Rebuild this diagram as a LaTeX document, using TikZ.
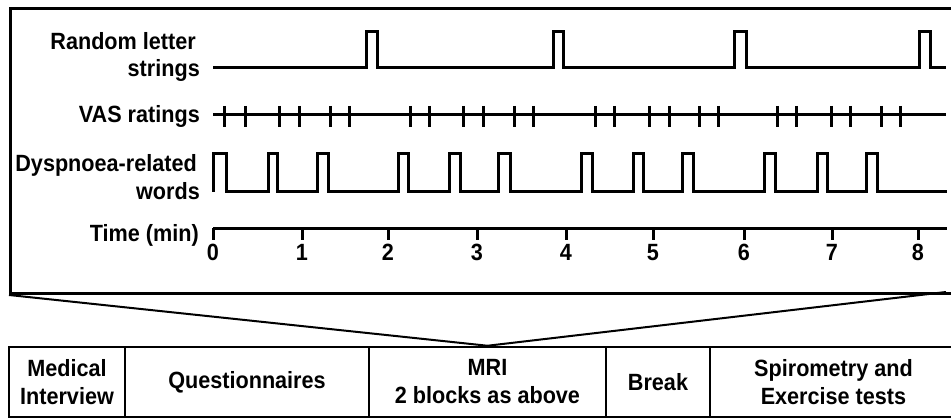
\documentclass[tikz,border=0pt]{standalone}
\usepackage{fontspec}
\setmainfont{Liberation Sans}[FakeStretch=0.92]
\begin{document}
\begin{tikzpicture}[x=1pt,y=-1pt,
  txt/.style={font=\fontsize{23.5}{28}\selectfont\bfseries, inner sep=0pt},
  lbl/.style={txt, anchor=base east},
  num/.style={txt, anchor=base},
  sig/.style={line width=3pt, line join=miter, line cap=butt},
  tick/.style={line width=3pt},
  cell/.style={txt, draw, line width=2.5pt, minimum height=70pt, align=center},
  fan/.style={line width=2pt}
]
\useasboundingbox (0,0) rectangle (951,419);
\clip (0,0) rectangle (951,419);

% outer frame
\node[draw, line width=3pt, minimum width=950pt, minimum height=285pt, anchor=north west, inner sep=0pt] (frame) at (9,7) {};

% labels
\node[lbl] (lr1) at (196,50) {Random letter};
\node[lbl] (lr2) at (200,77) {strings};
\node[lbl] (lv) at (200,123) {VAS ratings};
\node[lbl] (ld1) at (197,172) {Dyspnoea-related};
\node[lbl] (ld2) at (200,200) {words};
\node[lbl] (lt) at (199,242) {Time (min)};

% random letter strings
\draw[sig] (213,68) -- (366,68) -- (366,32) -- (377,32) -- (377,68)
  -- (553,68) -- (553,32) -- (563,32) -- (563,68)
  -- (734,68) -- (734,32) -- (746,32) -- (746,68)
  -- (919,68) -- (919,32) -- (930,32) -- (930,68) -- (946,68);

% VAS ratings
\draw[sig] (213,115) -- (946,115);
\foreach \x in {224,245,279,299,330,349,410,429,463,483,514,533,595,614,649,669,699,718,777,796,831,850,881,900}
  \draw[tick] (\x,106) -- (\x,127);

% dyspnoea-related words
\draw[sig] (213,192) -- (213,154) -- (226,154) -- (226,192)
  -- (268,192) -- (268,154) -- (277,154) -- (277,192)
  -- (317,192) -- (317,154) -- (328,154) -- (328,192)
  -- (398,192) -- (398,154) -- (408,154) -- (408,192)
  -- (449,192) -- (449,154) -- (460,154) -- (460,192)
  -- (498,192) -- (498,154) -- (510,154) -- (510,192)
  -- (581,192) -- (581,154) -- (592,154) -- (592,192)
  -- (633,192) -- (633,154) -- (643,154) -- (643,192)
  -- (682,192) -- (682,154) -- (693,154) -- (693,192)
  -- (764,192) -- (764,154) -- (775,154) -- (775,192)
  -- (817,192) -- (817,154) -- (827,154) -- (827,192)
  -- (866,192) -- (866,154) -- (877,154) -- (877,192) -- (947,192);

% time axis
\draw[sig] (213,229) -- (947,229);
\foreach \x/\n in {213/0,302/1,388/2,477/3,566/4,653/5,744/6,832/7,918/8}{
  \draw[tick] (\x,228) -- (\x,240);
  \node[num] (t\n) at (\x,261) {\n};
}

% table
\node[cell, minimum width=116pt] (c1) at (67,382) {Medical\\Interview};
\node[cell, minimum width=244pt] (c2) at (247,382) {Questionnaires};
\node[cell, minimum width=237pt] (c3) at (487.5,382) {MRI\\2 blocks as above};
\node[cell, minimum width=104pt] (c4) at (658,382) {Break};
\node[cell, minimum width=247pt] (c5) at (833.5,382) {Spirometry and\\Exercise tests};

% fan lines
\coordinate (fr) at (946,292);
\draw[fan] (frame.south west) -- (c3.north) -- (fr);
\end{tikzpicture}
\end{document}
